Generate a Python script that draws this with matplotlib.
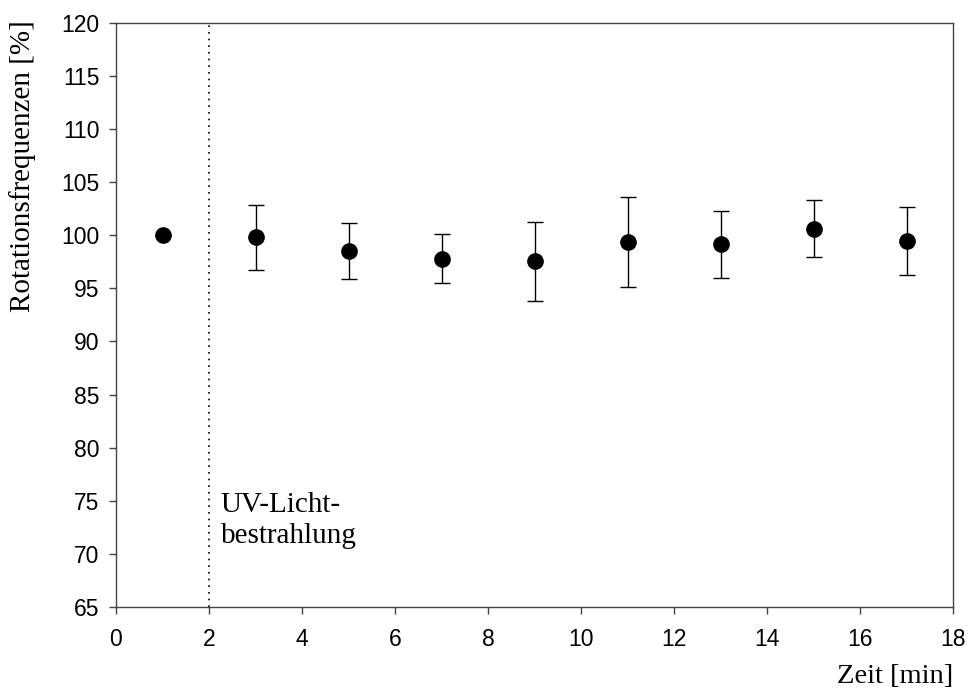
import matplotlib
matplotlib.use("Agg")
import matplotlib.pyplot as plt

# Data
zeit = [1, 3, 5, 7, 9, 11, 13, 15, 17]
frequenz = [100.0, 99.8, 98.5, 97.8, 97.55, 99.35, 99.15, 100.6, 99.45]
fehler = [0.0, 3.05, 2.65, 2.3, 3.7, 4.2, 3.15, 2.7, 3.2]

x_ticks = list(range(0, 19, 2))
y_ticks = list(range(65, 121, 5))

plt.rcParams['font.family'] = ['Liberation Sans', 'DejaVu Sans']
serif = ['Liberation Serif', 'DejaVu Serif']

fig = plt.figure(figsize=(9.69, 6.95), dpi=100)
ax = fig.add_axes([116 / 969, 1 - 607 / 695, (953 - 116) / 969, (607 - 22.7) / 695])

ax.errorbar(zeit, frequenz, yerr=fehler, fmt='o', color='black', markersize=11,
            ecolor='black', elinewidth=1, capsize=6, capthick=1)

ax.axvline(2, color='black', linestyle=(0, (1, 3)), linewidth=1.2)
ax.text(2.25, 75.85, 'UV-Licht-\nbestrahlung', family=serif, fontsize=21,
        ha='left', va='top', linespacing=1.25)

ax.set_xlim(0, 18)
ax.set_ylim(65, 120)
ax.set_xticks(x_ticks)
ax.set_yticks(y_ticks)
ax.tick_params(direction='out', length=5, width=1, labelsize=16.5, color='#444444')
ax.tick_params(axis='x', pad=10)
ax.tick_params(axis='y', pad=7)
for s in ax.spines.values():
    s.set_color('#444444')
    s.set_linewidth(1)

# y label sits in the upper part of the axis, as in the reference
fig.text(23 / 969, 1 - 166 / 695, 'Rotationsfrequenzen [%]', family=serif,
         fontsize=21, rotation=90, ha='center', va='center')
fig.text(953 / 969, 1 - 683 / 695, 'Zeit [min]', family=serif, fontsize=20.5,
         ha='right', va='baseline')

fig.savefig('out.png', dpi=100)
